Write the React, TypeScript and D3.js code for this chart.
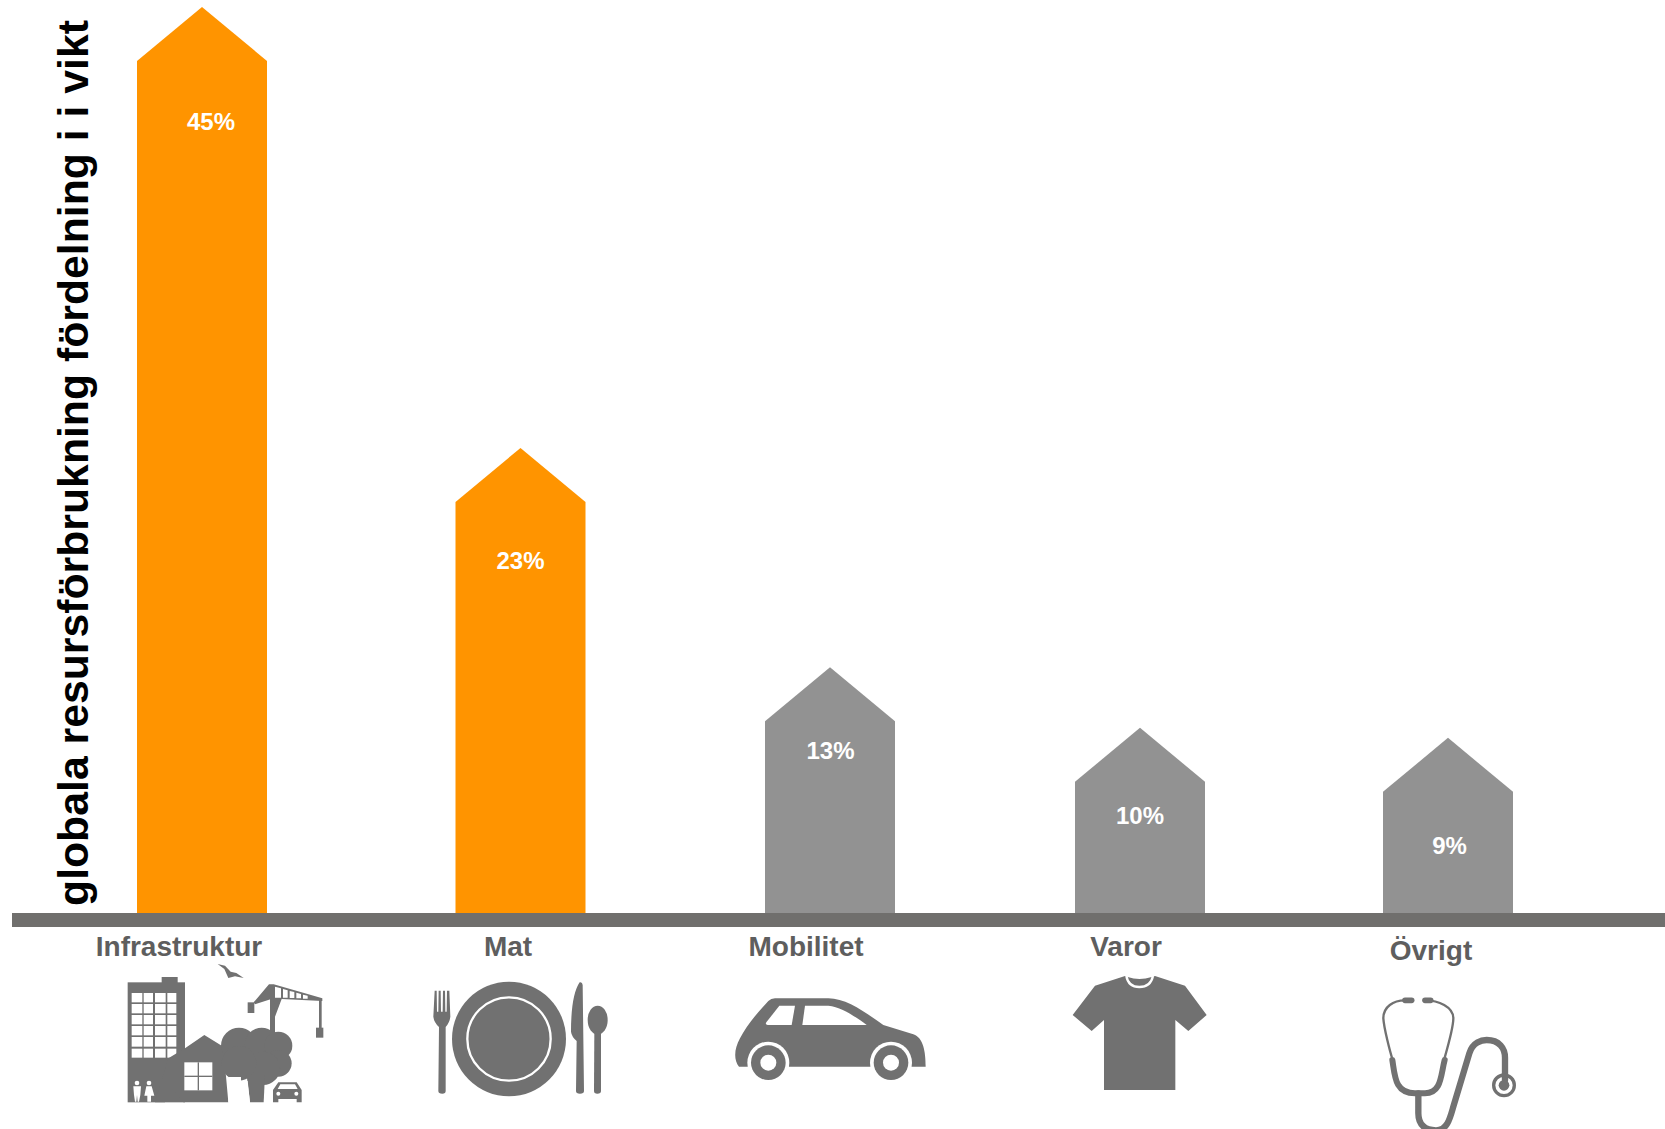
import React from "react";
import * as d3 from "d3";

const WIDTH = 1665;
const HEIGHT = 1129;

const categories = ["Infrastruktur", "Mat", "Mobilitet", "Varor", "Övrigt"];
const shareLabels = ["45%", "23%", "13%", "10%", "9%"];
// Height of each house-shaped bar in percent of the vertical axis
const barValues = [45, 23.1, 12.2, 9.2, 8.7];
const highlighted = [true, true, false, false, false];

const barCentres = [202, 520.5, 830, 1140, 1448];
const labelCentres = [211, 520.5, 830.5, 1140, 1449.5];
const labelBaselines = [130, 569, 759, 824, 854];
const categoryCentres = [179, 508, 806, 1126, 1431];
const categoryBaselines = [956, 956, 956, 956, 960];

const ORANGE = "#FF9400";
const GREY = "#929292";
const AXIS = "#706F6D";
const TEXT = "#5E5E5E";
const ICON = "#717171";
const FONT = "'Liberation Sans', Arial, sans-serif";

const BASE_Y = 913;
const y = d3.scaleLinear().domain([0, 45]).range([BASE_Y, 7]);
const x = d3.scaleOrdinal<string, number>().domain(categories).range(barCentres);
const BAR_W = 130;
const ROOF = 54;

const housePath = (cx: number, v: number) => {
  const p = d3.path();
  const top = y(v);
  p.moveTo(cx - BAR_W / 2, BASE_Y);
  p.lineTo(cx - BAR_W / 2, top + ROOF);
  p.lineTo(cx, top);
  p.lineTo(cx + BAR_W / 2, top + ROOF);
  p.lineTo(cx + BAR_W / 2, BASE_Y);
  p.closePath();
  return p.toString();
};

const Z = "scale(0.3333333)";

function CityIcon() {
  const winX: [number, number][] = [[50, 82], [86, 114], [120, 152], [157, 184]];
  const winY: [number, number][] = [[114, 142], [147, 175], [180, 208], [213, 241], [246, 275], [281, 308]];
  return (
    <g transform={`translate(115,955) ${Z}`} fill={ICON}>
      <path d="M308,27 L330,32 L347,50 L364,54 L386,69 L360,64 L340,69 L328,42 Z" />
      <rect x={38} y={82} width={172} height={360} />
      <rect x={140} y={66} width={48} height={18} />
      {winX.map((wx, i) =>
        winY.map((wy, j) => (
          <rect key={`${i}-${j}`} x={wx[0]} y={wy[0]} width={wx[1] - wx[0]} height={wy[1] - wy[0]} fill="#fff" />
        ))
      )}
      <path d="M160,310 L210,280 L268,240 L325,275 L340,442 L205,442 L180,410 L150,442 L120,442 Z" />
      <circle cx={372} cy={272} r={54} />
      <circle cx={440} cy={268} r={50} />
      <circle cx={490} cy={272} r={42} />
      <circle cx={490} cy={325} r={40} />
      <circle cx={445} cy={340} r={50} />
      <circle cx={372} cy={325} r={52} />
      <path d="M395,360 L450,360 L446,442 L405,442 Z" />
      <path d="M340,366 L378,366 L378,442 L340,442 Z" fill="#fff" />
      <path d="M388,378 L398,378 L405,442 L388,442 Z" fill="#fff" />
      <rect x={208} y={322} width={84} height={84} fill="#fff" />
      <rect x={248} y={322} width={4} height={84} fill={ICON} />
      <rect x={208} y={362} width={84} height={4} fill={ICON} />
      <g fill="#fff">
        <circle cx={66} cy={384} r={7} />
        <path d="M55,394 L78,394 L76,420 L72,440 L68,440 L66,420 L64,440 L60,440 L57,420 Z" />
        <circle cx={102} cy={384} r={7} />
        <path d="M94,394 L110,394 L118,422 L108,422 L108,440 L97,440 L97,422 L88,422 Z" />
      </g>
      <rect x={465} y={92} width={15} height={145} />
      <path d="M462,88 L476,88 L622,130 L622,138 L500,132 L480,185 L476,130 L420,148 L416,142 Z" />
      <path d="M480,95 L498,100 L498,128 L480,128 Z M504,102 L518,106 L518,128 L504,128 Z M524,108 L538,111 L538,129 L524,129 Z M544,113 L558,117 L558,130 L544,130 Z M564,119 L578,122 L578,131 L564,131 Z" fill="#fff" />
      <rect x={398} y={142} width={20} height={32} />
      <rect x={612} y={132} width={8} height={90} />
      <rect x={603} y={218} width={22} height={30} />
      <path d="M474,442 L474,405 L490,382 L545,382 L560,405 L560,442 L545,442 L545,432 L490,432 L490,442 Z" />
      <path d="M496,388 L540,388 L548,402 L488,402 Z" fill="#fff" />
      <circle cx={490} cy={416} r={6} fill="#fff" />
      <circle cx={544} cy={416} r={6} fill="#fff" />
    </g>
  );
}

function PlateIcon() {
  return (
    <g transform={`translate(425,965) ${Z}`} fill={ICON}>
      <ellipse cx={252} cy={222} rx={171} ry={172} />
      <circle cx={252} cy={222} r={125} fill="none" stroke="#fff" strokeWidth={7} />
      <path d="M29,77 L35,77 L36,140 L40,140 L41,77 L47,77 L48,140 L53,140 L54,77 L60,77 L61,140 L65,140 L66,77 L73,77 L76,155 Q74,172 62,186 L62,378 Q62,386 52,386 Q40,386 40,378 L42,186 Q27,172 25,155 Z" />
      <path d="M464,52 Q472,50 473,60 L477,378 Q477,386 465,386 Q453,386 453,378 L455,228 Q440,215 438,200 Q438,90 464,52 Z" />
      <ellipse cx={518} cy={165} rx={30} ry={43} />
      <path d="M508,200 L528,200 L528,378 Q528,386 517,386 Q507,386 507,378 Z" />
    </g>
  );
}

function CarIcon() {
  return (
    <g transform={`translate(725,985) ${Z}`} fill={ICON}>
      <path d="M42,245 C25,225 28,190 45,160 C65,120 100,80 130,48 Q138,40 150,40 L310,40 C365,40 425,85 475,120 L565,148 C595,158 602,200 602,245 Z" />
      <circle cx={130} cy={233} r={63} fill="#fff" />
      <circle cx={498} cy={233} r={63} fill="#fff" />
      <rect x={0} y={247} width={640} height={60} fill="#fff" />
      <circle cx={130} cy={233} r={52} />
      <circle cx={498} cy={233} r={52} />
      <circle cx={130} cy={233} r={24} fill="#fff" />
      <circle cx={498} cy={233} r={24} fill="#fff" />
      <path d="M163,62 L210,62 L200,120 L128,120 Q120,118 124,112 Z" fill="#fff" />
      <path d="M240,62 L310,62 C350,65 395,98 425,120 L232,120 Z" fill="#fff" />
    </g>
  );
}

function ShirtIcon() {
  return (
    <g transform={`translate(1060,965) ${Z}`}>
      <path
        d="M195,33 L105,62 L38,150 L95,198 L132,165 L132,375 L346,375 L346,165 L385,198 L440,150 L375,62 L285,33 L275,36 Q238,48 203,36 Z"
        fill={ICON}
      />
      <path d="M199,33 Q205,66 238,66 Q272,66 279,33" fill="none" stroke="#fff" strokeWidth={7} />
    </g>
  );
}

function StethoscopeIcon() {
  return (
    <g transform={`translate(1370,985) ${Z}`} fill="none" stroke={ICON} strokeLinecap="round">
      <path d="M105,46 C70,46 40,65 40,100 C42,130 60,200 68,225" strokeWidth={7} />
      <path d="M165,46 C205,46 250,65 250,100 C250,130 232,190 222,225" strokeWidth={7} />
      <path d="M105,46 L125,46" strokeWidth={17} />
      <path d="M165,46 L182,46" strokeWidth={17} />
      <path d="M67,225 C75,275 75,325 135,325 L165,325 C215,325 212,270 224,225" strokeWidth={18} />
      <path d="M145,325 L145,385 C145,428 175,436 198,436 C232,436 240,400 250,365 L298,205 C308,172 335,165 350,165 C388,165 405,190 405,218 L405,285" strokeWidth={19} />
      <circle cx={402} cy={301} r={31} strokeWidth={10} />
      <circle cx={402} cy={301} r={16} fill={ICON} stroke="none" />
    </g>
  );
}

export default function App() {
  return (
    <svg
      width={WIDTH}
      height={HEIGHT}
      viewBox={`0 0 ${WIDTH} ${HEIGHT}`}
      style={{ position: "absolute", left: 0, top: 0, display: "block", background: "#fff" }}
      fontFamily={FONT}
    >
      {categories.map((c, i) => (
        <path key={c} d={housePath(x(c)!, barValues[i])} fill={highlighted[i] ? ORANGE : GREY} />
      ))}
      <rect x={12} y={BASE_Y} width={WIDTH - 12} height={14} fill={AXIS} />
      <text
        transform={`translate(88,20) rotate(-90)`}
        textAnchor="end"
        fontSize={42.75}
        fontWeight={700}
        fill="#000"
      >
        globala resursförbrukning fördelning i i vikt
      </text>
      {shareLabels.map((s, i) => (
        <text key={s} x={labelCentres[i]} y={labelBaselines[i]} textAnchor="middle" fontSize={24} fontWeight={700} fill="#fff">
          {s}
        </text>
      ))}
      {categories.map((c, i) => (
        <text key={c} x={categoryCentres[i]} y={categoryBaselines[i]} textAnchor="middle" fontSize={28} fontWeight={700} fill={TEXT}>
          {c}
        </text>
      ))}
      <CityIcon />
      <PlateIcon />
      <CarIcon />
      <ShirtIcon />
      <StethoscopeIcon />
    </svg>
  );
}
